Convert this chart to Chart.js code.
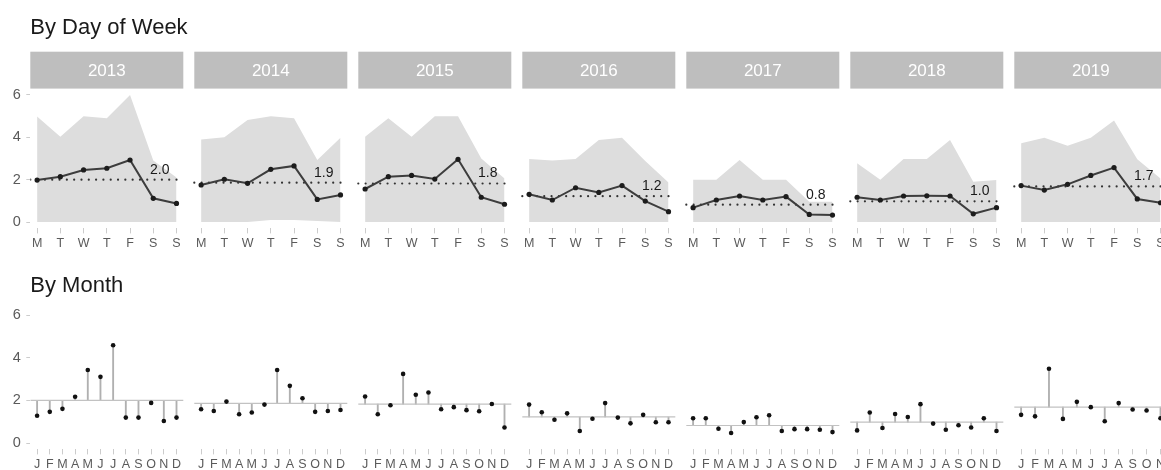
<!DOCTYPE html>
<html>
<head>
<meta charset="utf-8">
<script src="https://cdn.jsdelivr.net/npm/chart.js@4/dist/chart.umd.min.js"></script>
<style>
  html, body { margin: 0; padding: 0; background: #fff; overflow: hidden; width: 1161px; height: 470px; }
  canvas { position: absolute; left: 0; }
  #dow { top: 0; }
  #mon { top: 255px; }
</style>
</head>
<body>
<canvas id="dow" width="1180" height="255"></canvas>
<canvas id="mon" width="1180" height="215"></canvas>
<script>
// ---- data ----
const years = ["2013", "2014", "2015", "2016", "2017", "2018", "2019"];
const days = ["M", "T", "W", "T", "F", "S", "S"];
const months = ["J", "F", "M", "A", "M", "J", "J", "A", "S", "O", "N", "D"];
const yTicks = [0, 2, 4, 6];

// overall yearly mean (dotted line / month baseline / label)
const yearMeans = [2.0, 1.86, 1.82, 1.22, 0.82, 0.98, 1.68];

// mean by day of week
const dayMean = [
  [1.98, 2.14, 2.46, 2.54, 2.93, 1.12, 0.88],
  [1.75, 2.02, 1.83, 2.49, 2.65, 1.07, 1.28],
  [1.56, 2.14, 2.20, 2.03, 2.96, 1.17, 0.84],
  [1.31, 1.04, 1.62, 1.40, 1.72, 0.99, 0.49],
  [0.68, 1.04, 1.23, 1.04, 1.20, 0.36, 0.33],
  [1.17, 1.04, 1.23, 1.24, 1.23, 0.39, 0.68],
  [1.72, 1.51, 1.78, 2.20, 2.57, 1.09, 0.91],
];
// range by day of week
const dayMax = [
  [4.98, 4.03, 5.00, 4.90, 6.00, 2.90, 2.10],
  [3.90, 4.00, 4.82, 5.00, 4.90, 2.93, 3.98],
  [4.03, 4.90, 4.03, 5.00, 5.00, 3.00, 2.06],
  [2.98, 2.90, 2.98, 3.87, 3.98, 2.88, 1.87],
  [2.00, 2.00, 2.93, 2.00, 2.00, 0.96, 0.96],
  [2.77, 2.00, 2.98, 2.98, 3.87, 1.90, 1.98],
  [3.72, 3.98, 3.60, 3.98, 4.79, 2.96, 2.06],
];
const dayMin = [
  [0, 0, 0, 0, 0, 0, 0],
  [0, 0, 0, 0.1, 0.1, 0.05, 0],
  [0, 0, 0, 0, 0, 0, 0],
  [0, 0, 0, 0, 0, 0, 0],
  [0, 0, 0, 0, 0, 0, 0],
  [0, 0, 0, 0, 0, 0, 0],
  [0, 0, 0, 0, 0, 0, 0],
];

// mean by month (2019 only runs to November)
const monthMean = [
  [1.28, 1.46, 1.60, 2.17, 3.42, 3.10, 4.58, 1.19, 1.19, 1.88, 1.03, 1.19],
  [1.58, 1.50, 1.94, 1.35, 1.43, 1.80, 3.42, 2.68, 2.10, 1.46, 1.50, 1.55],
  [2.18, 1.35, 1.77, 3.24, 2.26, 2.37, 1.58, 1.68, 1.54, 1.49, 1.83, 0.73],
  [1.80, 1.44, 1.09, 1.39, 0.56, 1.14, 1.87, 1.19, 0.92, 1.32, 0.97, 0.97],
  [1.16, 1.16, 0.67, 0.47, 0.98, 1.21, 1.30, 0.56, 0.65, 0.65, 0.62, 0.51],
  [0.59, 1.43, 0.70, 1.36, 1.22, 1.82, 0.91, 0.62, 0.83, 0.73, 1.16, 0.56],
  [1.32, 1.25, 3.48, 1.13, 1.93, 1.68, 1.02, 1.87, 1.57, 1.52, 1.16],
];

// ---- facet layout ----
const PERIOD = 164, PANEL_W = 153, INSET = 6.8;
const AXIS_W = 30.3, CANVAS_W = 1180;
const X_MAX = (years.length - 1) * PERIOD + PANEL_W;
const FONT = "'Liberation Sans', Arial, Helvetica, sans-serif";
const TEXT_GREY = "#5a5a5a";
const TICK_GREY = "#cccccc";

function xPos(p, i, n) {
  return p * PERIOD + INSET + i * (PANEL_W - 2 * INSET) / (n - 1);
}

const facetPlugin = {
  id: "facets",
  beforeDraw(chart, args, opts) {
    const { ctx, chartArea, scales: { x } } = chart;
    ctx.save();
    ctx.fillStyle = "#1a1a1a";
    ctx.font = `22px ${FONT}`;
    ctx.textAlign = "left";
    ctx.textBaseline = "alphabetic";
    ctx.fillText(opts.title, chartArea.left, opts.titleBaseline);
    if (opts.strips) {
      ctx.font = `17px ${FONT}`;
      ctx.textAlign = "center";
      ctx.textBaseline = "middle";
      years.forEach((yr, p) => {
        const l = x.getPixelForValue(p * PERIOD);
        const r = x.getPixelForValue(p * PERIOD + PANEL_W);
        ctx.fillStyle = "#bebebe";
        ctx.fillRect(l, opts.stripTop, r - l, chartArea.top - opts.stripTop);
        ctx.fillStyle = "#ffffff";
        ctx.fillText(yr, (l + r) / 2, (opts.stripTop + chartArea.top) / 2 + 1);
      });
    }
    ctx.restore();
  },
  afterDatasetsDraw(chart, args, opts) {
    if (!opts.meanLabels) return;
    const { ctx, scales: { x, y } } = chart;
    ctx.save();
    ctx.fillStyle = "#1a1a1a";
    ctx.font = `14px ${FONT}`;
    ctx.textAlign = "center";
    ctx.textBaseline = "middle";
    yearMeans.forEach((m, p) => {
      ctx.fillText(m.toFixed(1), x.getPixelForValue(xPos(p, 5.28, 7)), y.getPixelForValue(m) - 10);
    });
    ctx.restore();
  },
};

function xScale(tickVals, tickLabels, axisH, pad) {
  return {
    type: "linear",
    min: 0,
    max: X_MAX,
    offset: false,
    afterBuildTicks: (s) => { s.ticks = tickVals.map((v) => ({ value: v })); },
    afterFit: (s) => { s.height = axisH; },
    grid: { drawOnChartArea: false, offset: false, tickLength: 5, color: TICK_GREY, lineWidth: 1 },
    border: { display: false },
    ticks: {
      autoSkip: false, maxRotation: 0, minRotation: 0, padding: pad,
      color: TEXT_GREY, font: { family: FONT, size: 12.5 },
      callback: (v, i) => tickLabels[i],
    },
  };
}

function yScale() {
  return {
    type: "linear",
    min: -0.3,
    max: 6.3,
    afterBuildTicks: (s) => { s.ticks = yTicks.map((v) => ({ value: v })); },
    afterFit: (s) => { s.width = AXIS_W; },
    grid: { drawOnChartArea: false, tickLength: 4, color: TICK_GREY, lineWidth: 1 },
    border: { display: false },
    ticks: { padding: 5.6, color: TEXT_GREY, font: { family: FONT, size: 14.5 } },
  };
}

const baseOptions = {
  responsive: false,
  animation: false,
  devicePixelRatio: 1,
  events: [],
};

// ---- row 1: by day of week ----
const dowTicks = [], dowLabels = [];
const dowSets = [];
years.forEach((yr, p) => {
  days.forEach((d, i) => { dowTicks.push(xPos(p, i, 7)); dowLabels.push(d); });
  dowSets.push({
    label: yr + " max",
    data: dayMax[p].map((v, i) => ({ x: xPos(p, i, 7), y: v })),
    fill: "+1", backgroundColor: "#dddddd", borderWidth: 0, pointRadius: 0, order: 4,
  });
  dowSets.push({
    label: yr + " min",
    data: dayMin[p].map((v, i) => ({ x: xPos(p, i, 7), y: v })),
    fill: false, borderWidth: 0, pointRadius: 0, order: 4,
  });
  dowSets.push({
    label: yr + " overall",
    data: [{ x: p * PERIOD, y: yearMeans[p] }, { x: p * PERIOD + PANEL_W, y: yearMeans[p] }],
    fill: false, borderColor: "#333333", borderWidth: 2.2, borderDash: [0.01, 7.3],
    borderCapStyle: "round", pointRadius: 0, order: 3,
  });
  dowSets.push({
    label: yr,
    data: dayMean[p].map((v, i) => ({ x: xPos(p, i, 7), y: v })),
    fill: false, borderColor: "#3d3d3d", borderWidth: 2, tension: 0,
    pointRadius: 2.6, pointBackgroundColor: "#1c1c1c", pointBorderWidth: 0, order: 1,
  });
});

new Chart(document.getElementById("dow"), {
  type: "line",
  data: { datasets: dowSets },
  options: {
    ...baseOptions,
    layout: { padding: { top: 88.6, right: CANVAS_W - AXIS_W - X_MAX, bottom: 0, left: 0 } },
    scales: { x: xScale(dowTicks, dowLabels, 255 - 228.4, 3.0), y: yScale() },
    plugins: {
      legend: { display: false },
      tooltip: { enabled: false },
      facets: { title: "By Day of Week", titleBaseline: 33.5, strips: true, stripTop: 51.7, meanLabels: true },
    },
  },
  plugins: [facetPlugin],
});

// ---- row 2: by month ----
const monTicks = [], monLabels = [];
const stems = [], dots = [];
const monSets = [];
years.forEach((yr, p) => {
  const vals = monthMean[p];
  const n = vals.length;
  vals.forEach((v, i) => {
    const x = xPos(p, i, n);
    monTicks.push(x);
    monLabels.push(months[i]);
    stems.push({ x, y: [yearMeans[p], v] });
    dots.push({ x, y: v });
  });
  monSets.push({
    type: "line",
    label: yr + " baseline",
    data: [{ x: p * PERIOD, y: yearMeans[p] }, { x: p * PERIOD + PANEL_W, y: yearMeans[p] }],
    borderColor: "#c2c2c2", borderWidth: 1.2, pointRadius: 0, fill: false, order: 2,
  });
});
monSets.push({
  type: "bar", label: "stems", data: stems,
  backgroundColor: "#b0b0b0", borderWidth: 0, barThickness: 1.2, order: 3,
});
monSets.push({
  type: "line", label: "months", data: dots, showLine: false,
  pointRadius: 2.3, pointBackgroundColor: "#111111", pointBorderWidth: 0, order: 1,
});

new Chart(document.getElementById("mon"), {
  type: "line",
  data: { datasets: monSets },
  options: {
    ...baseOptions,
    layout: { padding: { top: 53.6, right: CANVAS_W - AXIS_W - X_MAX, bottom: 0, left: 0 } },
    scales: { x: xScale(monTicks, monLabels, 215 - 194.4, 2.2), y: yScale() },
    plugins: {
      legend: { display: false },
      tooltip: { enabled: false },
      facets: { title: "By Month", titleBaseline: 36.9, strips: false },
    },
  },
  plugins: [facetPlugin],
});
</script>
</body>
</html>
